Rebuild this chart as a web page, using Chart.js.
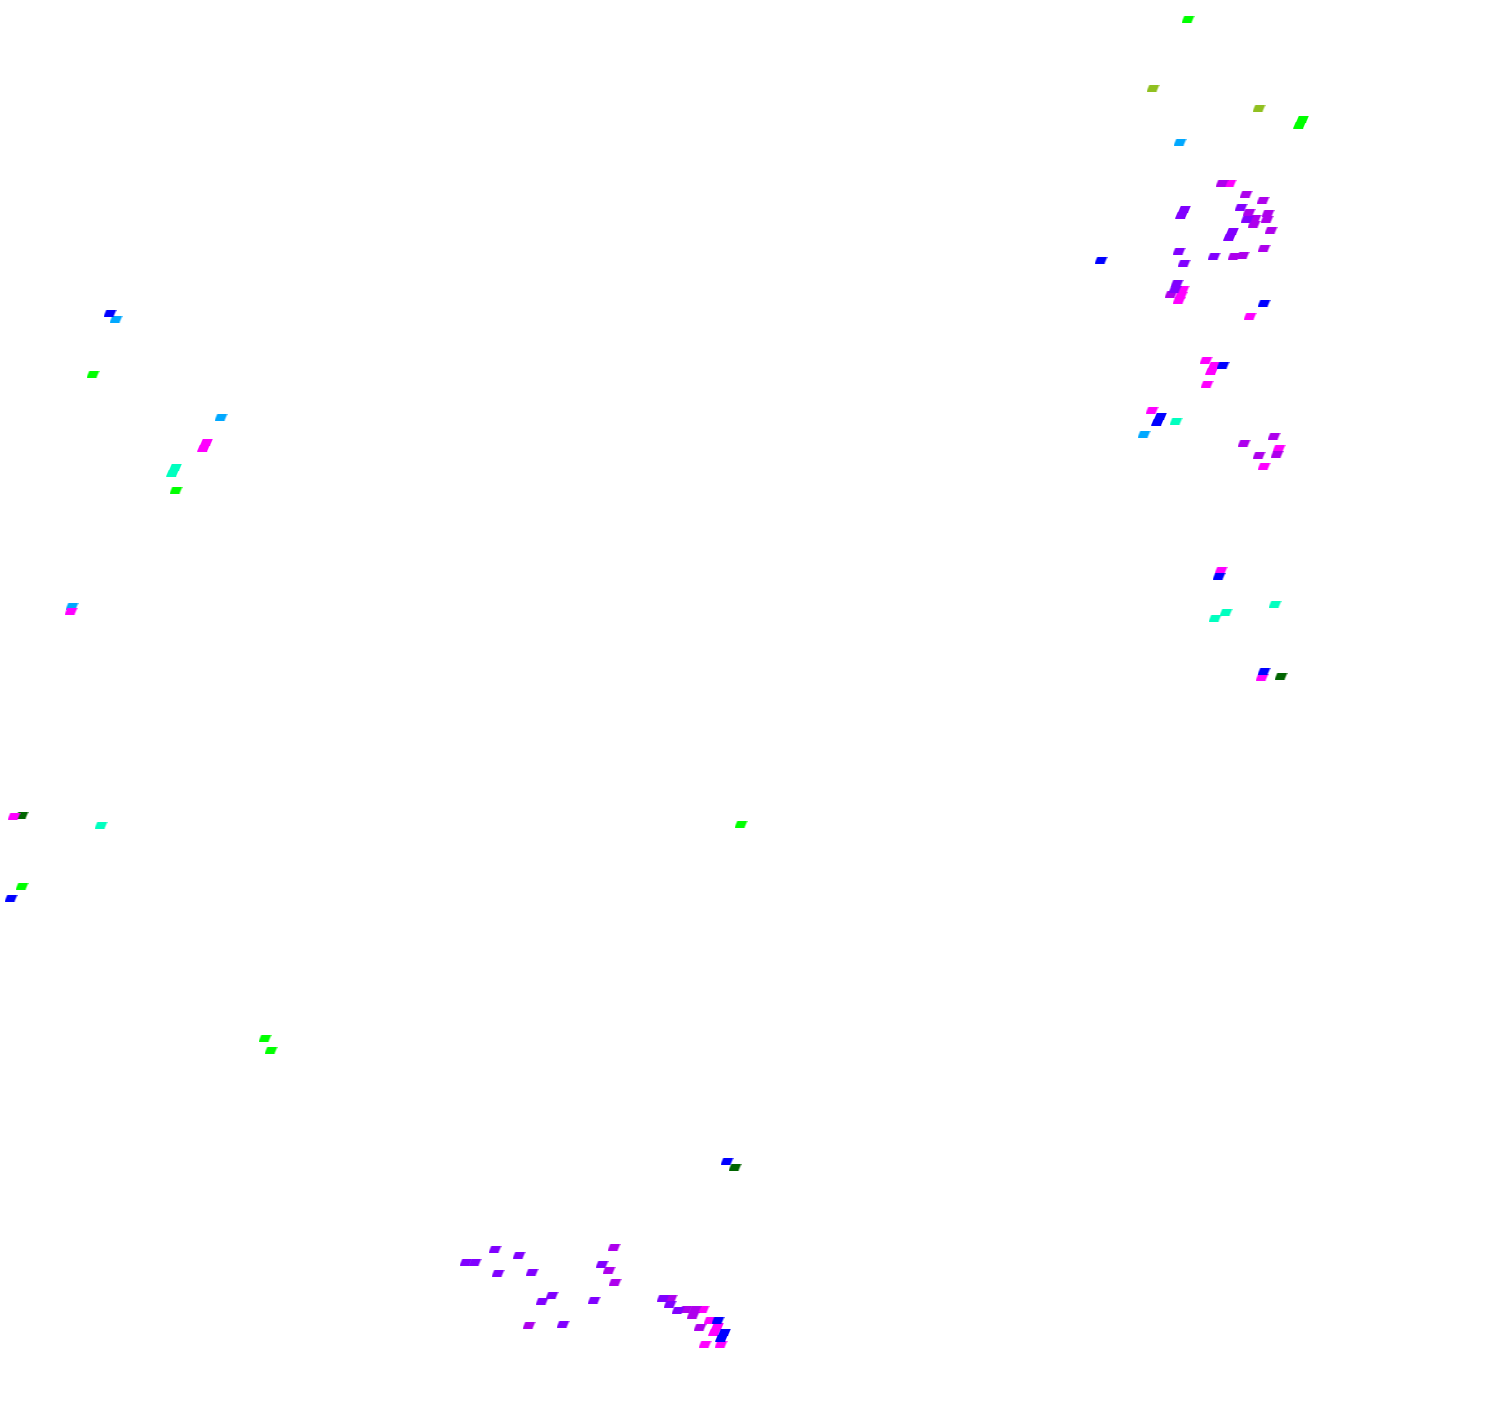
<!DOCTYPE html>
<html>
<head>
<meta charset="utf-8">
<script src="https://cdn.jsdelivr.net/npm/chart.js@4"></script>
<style>
  html, body { margin: 0; padding: 0; background: #fff; }
  canvas { display: block; }
</style>
</head>
<body>
<canvas id="scatter" width="1500" height="1408"></canvas>
<script>
// categories and their colours
var categories = ['blue', 'violet', 'purple', 'magenta', 'lime', 'aqua', 'sky', 'olive', 'darkgreen'];
var catColors = ['#0000ff', '#8000ff', '#ad00ec', '#ff00ff', '#00ff00', '#00ffbf', '#00a8ff', '#90c020', '#006400'];

// point values
var xValues = [1188, 1153, 1259, 1299.5, 1302.5, 1180, 1222, 1230, 1246, 1263,
  1181.5, 1184.5, 1241, 1249, 1247, 1255, 1254, 1268, 1267, 1229.5,
  1232.5, 1271, 1101, 1179, 1214, 1234, 1243, 1264, 1184, 1177,
  1175, 1171, 1183, 1181, 1179, 1264, 1250, 1206, 1214.5, 1211.5,
  1223, 1207, 1152, 1157.5, 1160.5, 1176, 1144, 1244, 1274, 1279,
  1277, 1259, 1264, 1221, 1219, 1275, 1226, 1215, 1264, 1262,
  1281, 110, 116, 93, 221, 203.5, 206.5, 172.5, 175.5, 176,
  72, 71, 14, 22, 101, 22, 11, 741, 727, 735,
  265, 271, 495, 466, 475, 519, 498, 532, 614, 602,
  609, 615, 552, 542, 594, 529, 563, 663, 671, 670,
  678, 686, 695, 703, 693, 700, 710, 718, 714.5, 717.5,
  721.5, 724.5, 705, 721];
var yValues = [19, 88, 108, 125, 119, 142, 183, 183, 194, 200,
  215, 209, 207, 212, 219, 218, 224, 213, 219, 237,
  231, 230, 260, 251, 256, 256, 255, 248, 263, 283,
  289, 294, 289, 295, 300, 303, 316, 360, 365, 371,
  365, 384, 410, 422, 416, 421, 434, 443, 436, 448,
  454, 455, 466, 570, 576, 604, 612, 618, 671, 677,
  676, 313, 319, 374, 417, 448, 442, 473, 467, 490,
  606, 611, 816, 815, 825, 886, 898, 824, 1161, 1167,
  1038, 1050, 1249, 1262, 1262, 1255, 1273, 1272, 1247, 1264,
  1270, 1282, 1295, 1301, 1300, 1325, 1324, 1298, 1298, 1304,
  1310, 1309, 1309, 1309, 1315, 1327, 1320, 1320, 1332, 1326,
  1338, 1332, 1344, 1344];
var catValues = ['lime', 'olive', 'olive', 'lime', 'lime', 'sky', 'purple', 'magenta', 'purple', 'purple',
  'violet', 'violet', 'violet', 'purple', 'violet', 'purple', 'purple', 'purple', 'purple', 'violet',
  'violet', 'purple', 'blue', 'violet', 'violet', 'purple', 'purple', 'purple', 'violet', 'violet',
  'violet', 'purple', 'magenta', 'magenta', 'magenta', 'blue', 'magenta', 'magenta', 'magenta', 'magenta',
  'blue', 'magenta', 'magenta', 'blue', 'blue', 'aqua', 'sky', 'purple', 'purple', 'magenta',
  'purple', 'purple', 'magenta', 'magenta', 'blue', 'aqua', 'aqua', 'aqua', 'blue', 'magenta',
  'darkgreen', 'blue', 'sky', 'lime', 'sky', 'magenta', 'magenta', 'aqua', 'aqua', 'lime',
  'sky', 'magenta', 'magenta', 'darkgreen', 'aqua', 'lime', 'blue', 'lime', 'blue', 'darkgreen',
  'lime', 'lime', 'violet', 'violet', 'violet', 'violet', 'violet', 'violet', 'purple', 'violet',
  'purple', 'purple', 'violet', 'violet', 'violet', 'purple', 'violet', 'violet', 'purple', 'violet',
  'violet', 'purple', 'purple', 'magenta', 'purple', 'purple', 'magenta', 'blue', 'magenta', 'magenta',
  'blue', 'blue', 'magenta', 'magenta'];

// small slanted tile used as the point marker
function makeTile(color) {
  var c = document.createElement('canvas');
  c.width = 13;
  c.height = 7;
  var g = c.getContext('2d');
  g.fillStyle = color;
  g.beginPath();
  g.moveTo(0, 7);
  g.lineTo(10, 7);
  g.lineTo(13, 0);
  g.lineTo(3, 0);
  g.closePath();
  g.fill();
  return c;
}

var datasets = categories.map(function (cat, i) {
  var pts = [];
  for (var k = 0; k < xValues.length; k++) {
    if (catValues[k] === cat) pts.push({x: xValues[k], y: yValues[k]});
  }
  return {
    label: cat,
    data: pts,
    pointStyle: makeTile(catColors[i]),
    backgroundColor: catColors[i],
    borderColor: catColors[i],
    clip: false
  };
});

new Chart("scatter", {
  type: "scatter",
  data: {datasets: datasets},
  options: {
    responsive: false,
    animation: false,
    devicePixelRatio: 1,
    layout: {padding: 0, autoPadding: false},
    plugins: {legend: {display: false}, tooltip: {enabled: false}},
    scales: {
      x: {type: 'linear', min: 0, max: 1500, display: false},
      y: {type: 'linear', min: 0, max: 1408, reverse: true, display: false}
    }
  }
});
</script>
</body>
</html>
